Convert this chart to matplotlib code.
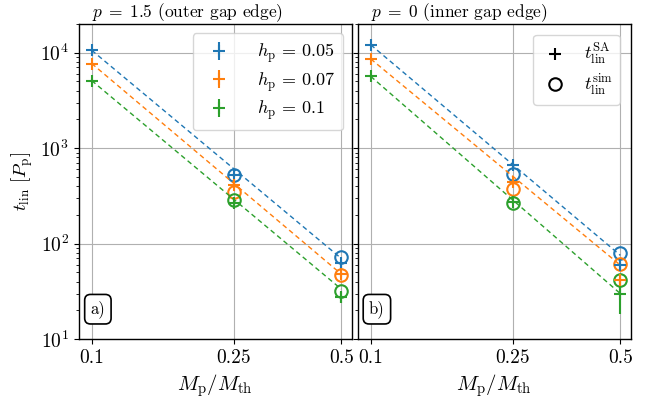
import numpy as np
import matplotlib
matplotlib.use('Agg')
import matplotlib.pyplot as plt
from matplotlib.lines import Line2D

plt.rcParams['font.family'] = 'serif'
plt.rcParams['font.serif'] = ['cmr10']
plt.rcParams['mathtext.fontset'] = 'cm'
plt.rcParams['axes.formatter.use_mathtext'] = True
plt.rcParams['font.size'] = 12
plt.rcParams['axes.linewidth'] = 1.0

# planet mass in thermal masses
mass = [0.1, 0.25, 0.5]
h_labels = ['0.05', '0.07', '0.1']
colors = ['C0', 'C1', 'C2']

# p = 1.5 (outer gap edge)
sa_outer = [[10600, 530, 62], [7700, 412, 48], [5100, 269, 27.4]]
sa_err_outer = [[300, 25, 6], [250, 20, 3], [200, 20, 3.5]]
sim_outer = [[None, 525, 72.9], [None, 350, 46.9], [None, 287, 32.0]]
fit_outer = [[10600, 70], [7700, 48], [5100, 33.4]]

# p = 0 (inner gap edge)
sa_inner = [[12100, 668, 59.6], [8600, 446, 41.5], [5650, 275, 29.4]]
sa_err_inner = [[300, 30, 5], [250, 20, 3], [200, 15, 11]]
sim_inner = [[None, 538, 79.0], [None, 372, 61.0], [None, 269, 41.5]]
fit_inner = [[12100, 75.5], [8600, 59.6], [5650, 30.0]]

fig, axes = plt.subplots(1, 2, figsize=(6.51, 3.99), dpi=100, sharey=True)
fig.subplots_adjust(left=0.121, right=0.969, top=0.94, bottom=0.15, wspace=0.022)

panels = [
    (axes[0], sa_outer, sa_err_outer, sim_outer, fit_outer, r'$p\;=\;1.5$ (outer gap edge)', 'a)'),
    (axes[1], sa_inner, sa_err_inner, sim_inner, fit_inner, r'$p\;=\;0$ (inner gap edge)', 'b)'),
]

for ax, sa, sa_err, sim, fit, title, tag in panels:
    handles = []
    for i in range(3):
        ax.plot([mass[0], mass[-1]], fit[i], ls='--', color=colors[i], lw=1.0, dashes=(3.5, 2.5))
        eb = ax.errorbar(mass, sa[i], yerr=sa_err[i], fmt='+', color=colors[i], ms=9, mew=1.5,
                         elinewidth=1.5, capsize=0, label=r'$h_{\rm p}\,=\,%s$' % h_labels[i])
        handles.append(eb)
        xs = [m for m, s in zip(mass, sim[i]) if s is not None]
        ys = [s for s in sim[i] if s is not None]
        ax.plot(xs, ys, 'o', mfc='none', mec=colors[i], ms=9, mew=1.5)

    ax.set_xscale('log')
    ax.set_yscale('log')
    ax.set_xlim(0.092, 0.535)
    ax.set_ylim(10, 2e4)
    ax.set_xticks(mass)
    ax.set_xticklabels(['0.1', '0.25', '0.5'])
    ax.xaxis.set_minor_locator(matplotlib.ticker.NullLocator())
    ax.tick_params(labelsize=14)
    ax.grid(True, which='major')
    ax.set_axisbelow(True)
    ax.set_xlabel(r'$M_{\rm p}/M_{\rm th}$', fontsize=15)
    ax.text(0.048, 1.0, title, transform=ax.transAxes, ha='left', va='bottom', fontsize=12.5)
    ax.text(0.07, 0.095, tag, transform=ax.transAxes, ha='center', va='center', fontsize=12,
            bbox=dict(boxstyle='round,pad=0.35', fc='white', ec='black', lw=1.2))

    if ax is axes[0]:
        ax.legend(handles=handles, loc='upper right', fontsize=13, handletextpad=1.1,
                  borderpad=0.45, labelspacing=0.25, borderaxespad=0.5)
    else:
        h_sa = Line2D([], [], ls='none', marker='+', color='black', ms=9, mew=1.5)
        h_sim = Line2D([], [], ls='none', marker='o', mfc='none', mec='black', ms=9, mew=1.5)
        ax.legend([h_sa, h_sim], [r'$t_{\rm lin}^{\rm SA}$', r'$t_{\rm lin}^{\rm sim}$'],
                  loc='upper right', fontsize=13, handletextpad=0.8, handlelength=1.6,
                  labelspacing=0.3, borderaxespad=0.6)

axes[0].set_ylabel(r'$t_{\rm lin}$ $[P_{\rm p}]$', fontsize=13.5)

plt.savefig('out.png', dpi=100)
plt.close()
